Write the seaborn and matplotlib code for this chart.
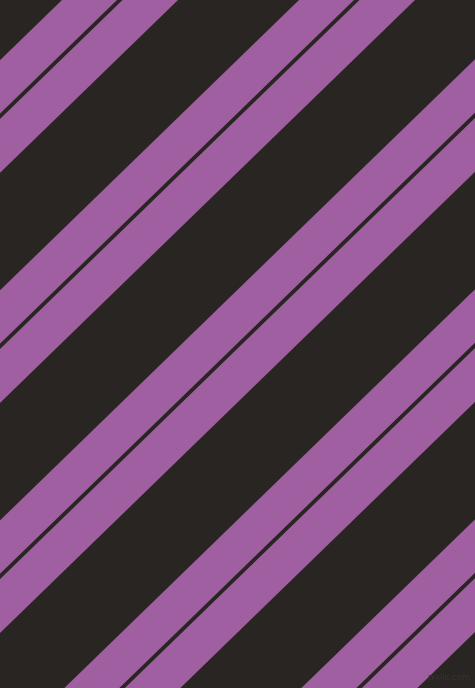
import numpy as np
import pandas as pd
import matplotlib
matplotlib.use("Agg")
import matplotlib.pyplot as plt
import seaborn as sns

# --- data (pixel-space values) ---
group_starts = [-175, 62, 299, 536, 773, 1010]   # intercept c of each stripe pair (x + slope*y = c)
band_offsets = [0.0, 60.5]                        # start of each purple band inside a pair
band_widths = [55.0, 55.5]                        # width of each purple band (along x)
slope = 1.03                                      # dx per dy of stripe edges
canvas_w, canvas_h = 475, 688
watermark = "pixlis.com"

purple = "#a05fa0"
dark = "#292522"

sns.set_theme(style="white")
fig = plt.figure(figsize=(4.75, 6.88), dpi=100)
ax = fig.add_axes([0, 0, 1, 1])
ax.set_facecolor(dark)
fig.patch.set_facecolor(dark)

rows = []
for g in group_starts:
    for off, w in zip(band_offsets, band_widths):
        rows.append({"c1": g + off, "c2": g + off + w})
bands = pd.DataFrame(rows)

y = np.array([0.0, float(canvas_h)])
for _, b in bands.iterrows():
    ax.fill_betweenx(y, b.c1 - slope * y, b.c2 - slope * y, color=purple, linewidth=0)

ax.text(470, 678, watermark, ha="right", va="center", fontsize=6.2,
        color="#36322f", family="DejaVu Sans")

ax.set_xlim(0, canvas_w)
ax.set_ylim(canvas_h, 0)
ax.axis("off")
fig.savefig("out.png", dpi=100, facecolor=dark)
